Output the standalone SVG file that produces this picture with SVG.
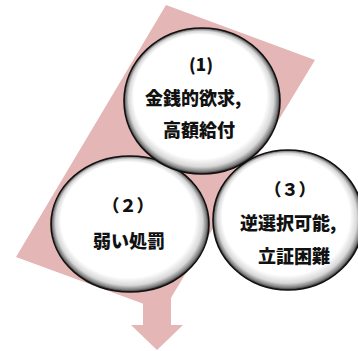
<svg xmlns="http://www.w3.org/2000/svg" width="358" height="351" viewBox="0 0 358 351">
<defs>
<radialGradient id="bevel" cx="50%" cy="50%" r="50%" fx="42%" fy="30%">
<stop offset="0" stop-color="#ffffff"/>
<stop offset="0.85" stop-color="#ffffff"/>
<stop offset="0.93" stop-color="#d8d8d8"/>
<stop offset="0.975" stop-color="#808080"/>
<stop offset="1" stop-color="#2a2a2a"/>
</radialGradient>
</defs>
<style>
.bg{fill:#e4b6b6;stroke:none}
.node{fill:url(#bevel);stroke:#111;stroke-width:1.6}
.t{font-family:"Noto Sans CJK JP","Noto Sans CJK SC",sans-serif;font-weight:900;font-size:18px;fill:#111}
.n{font-size:17px}
</style>
<g id="background">
<polygon class="bg" points="166,5 315,60 163,311 16,257"/>
<polygon class="bg" points="143,292 171,292 171,325 183,325 157,350 131,325 143,325"/>
</g>
<g id="connectors"></g>
<g id="node2">
<ellipse class="node" cx="130" cy="224" rx="79" ry="68"/>
<text class="t n" x="128" y="212" text-anchor="middle">（２）</text>
<text class="t" x="93" y="248">弱い処罰</text>
</g>
<g id="node3">
<ellipse class="node" cx="288" cy="220" rx="75" ry="70"/>
<text class="t n" x="290" y="196" text-anchor="middle">（３）</text>
<text class="t" x="240" y="230">逆選択可能,</text>
<text class="t" x="258" y="263">立証困難</text>
</g>
<g id="node1">
<ellipse class="node" cx="202" cy="101" rx="78" ry="73"/>
<text class="t n" x="201" y="71" text-anchor="middle">(1)</text>
<text class="t" x="145" y="105">金銭的欲求,</text>
<text class="t" x="163" y="137">高額給付</text>
</g>
</svg>
